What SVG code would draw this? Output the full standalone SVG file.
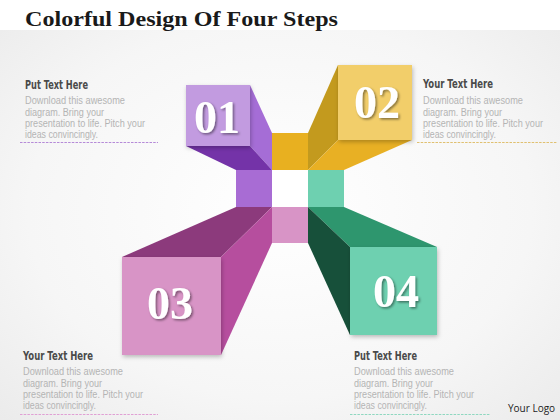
<svg xmlns="http://www.w3.org/2000/svg" width="560" height="420" viewBox="0 0 560 420">
<defs>
<radialGradient id="bg" cx="50%" cy="50%" r="75%">
<stop offset="0" stop-color="#ffffff"/>
<stop offset="0.6" stop-color="#f6f6f6"/>
<stop offset="1" stop-color="#e9e9e9"/>
</radialGradient>
<filter id="sh" x="-20%" y="-20%" width="140%" height="140%">
<feDropShadow dx="1" dy="2" stdDeviation="2" flood-color="#000" flood-opacity="0.25"/>
</filter>
<filter id="tsh" x="-20%" y="-20%" width="140%" height="140%">
<feDropShadow dx="1.5" dy="1.5" stdDeviation="0.8" flood-color="#000" flood-opacity="0.45"/>
</filter>
<style>
.num{font-family:"Liberation Serif","DejaVu Serif",serif;font-weight:bold;font-size:46px;fill:#fff;text-anchor:middle;filter:url(#tsh)}
.hd{font-family:"DejaVu Sans Condensed","Liberation Sans",sans-serif;font-weight:bold;font-size:13px;fill:#4a4a4a}
.bd{font-family:"Liberation Sans",Arial,sans-serif;font-size:10px;fill:#b4b4b4}
.dl{stroke-width:1.2;stroke-dasharray:2.5 1.2;fill:none}
</style>
</defs>
<rect width="560" height="420" fill="url(#bg)"/>
<rect width="560" height="30" fill="#ffffff"/>
<text x="25" y="26" font-family="'Liberation Serif','DejaVu Serif',serif" font-weight="bold" font-size="22" fill="#1a1a1a" textLength="313" lengthAdjust="spacingAndGlyphs">Colorful Design Of Four Steps</text>

<g id="center">
<rect x="272" y="170" width="36" height="37" fill="#ffffff"/>
<rect x="236" y="170" width="36" height="37" fill="#a86cd4"/>
<rect x="308" y="170" width="36" height="37" fill="#6ed0b0"/>
<rect x="272" y="133" width="36" height="37" fill="#e8b020"/>
<rect x="272" y="207" width="36" height="36" fill="#d894c6"/>
</g>

<g id="step1">
<polygon points="250,85 272,133 272,170 250,146" fill="#a56dd6"/>
<polygon points="186,146 250,146 272,170 236,170" fill="#7433a8"/>
<rect x="186" y="85" width="64" height="61" fill="#c29be0" filter="url(#sh)"/>
<text class="num" x="217" y="133">01</text>
</g>

<g id="step2">
<polygon points="338,65 338,140 308,170 308,133" fill="#c39a1e"/>
<polygon points="338,140 412,140 344,170 308,170" fill="#e8b024"/>
<rect x="338" y="65" width="74" height="75" fill="#f2ce6a" filter="url(#sh)"/>
<text class="num" x="377" y="118">02</text>
</g>

<g id="step3">
<polygon points="122,257 221,257 272,207 236,207" fill="#8c3a7c"/>
<polygon points="221,257 221,355 272,243 272,207" fill="#b64e9e"/>
<rect x="122" y="257" width="99" height="98" fill="#d894c6" filter="url(#sh)"/>
<text class="num" x="170" y="319">03</text>
</g>

<g id="step4">
<polygon points="350,247 437,247 344,207 308,207" fill="#2e966e"/>
<polygon points="308,207 350,247 350,335 308,243" fill="#17503a"/>
<rect x="350" y="247" width="87" height="88" fill="#6ed0b0" filter="url(#sh)"/>
<text class="num" x="396" y="307">04</text>
</g>

<g id="text1">
<text class="hd" x="25" y="89" textLength="63" lengthAdjust="spacingAndGlyphs">Put Text Here</text>
<text class="bd" x="25" y="104" textLength="100" lengthAdjust="spacingAndGlyphs">Download this awesome</text>
<text class="bd" x="25" y="115.5" textLength="79" lengthAdjust="spacingAndGlyphs">diagram. Bring your</text>
<text class="bd" x="25" y="127" textLength="120" lengthAdjust="spacingAndGlyphs">presentation to life. Pitch your</text>
<text class="bd" x="25" y="138" textLength="73" lengthAdjust="spacingAndGlyphs">ideas convincingly.</text>
<line class="dl" x1="20" y1="142.5" x2="158" y2="142.5" stroke="#b58ad8"/>
</g>

<g id="text2">
<text class="hd" x="423" y="88" textLength="70" lengthAdjust="spacingAndGlyphs">Your Text Here</text>
<text class="bd" x="423" y="104" textLength="100" lengthAdjust="spacingAndGlyphs">Download this awesome</text>
<text class="bd" x="423" y="115.5" textLength="79" lengthAdjust="spacingAndGlyphs">diagram. Bring your</text>
<text class="bd" x="423" y="127" textLength="120" lengthAdjust="spacingAndGlyphs">presentation to life. Pitch your</text>
<text class="bd" x="423" y="138" textLength="73" lengthAdjust="spacingAndGlyphs">ideas convincingly.</text>
<line class="dl" x1="417" y1="142.5" x2="557" y2="142.5" stroke="#e0c070"/>
</g>

<g id="text3">
<text class="hd" x="23" y="360" textLength="70" lengthAdjust="spacingAndGlyphs">Your Text Here</text>
<text class="bd" x="23" y="375" textLength="100" lengthAdjust="spacingAndGlyphs">Download this awesome</text>
<text class="bd" x="23" y="386.5" textLength="79" lengthAdjust="spacingAndGlyphs">diagram. Bring your</text>
<text class="bd" x="23" y="398" textLength="120" lengthAdjust="spacingAndGlyphs">presentation to life. Pitch your</text>
<text class="bd" x="23" y="409" textLength="73" lengthAdjust="spacingAndGlyphs">ideas convincingly.</text>
<line class="dl" x1="20" y1="414.5" x2="158" y2="414.5" stroke="#e0a0d4"/>
</g>

<g id="text4">
<text class="hd" x="354" y="360" textLength="63" lengthAdjust="spacingAndGlyphs">Put Text Here</text>
<text class="bd" x="354" y="375" textLength="100" lengthAdjust="spacingAndGlyphs">Download this awesome</text>
<text class="bd" x="354" y="386.5" textLength="79" lengthAdjust="spacingAndGlyphs">diagram. Bring your</text>
<text class="bd" x="354" y="398" textLength="120" lengthAdjust="spacingAndGlyphs">presentation to life. Pitch your</text>
<text class="bd" x="354" y="409" textLength="73" lengthAdjust="spacingAndGlyphs">ideas convincingly.</text>
<line class="dl" x1="350" y1="414.5" x2="490" y2="414.5" stroke="#8fd8c0"/>
</g>

<text x="508" y="412" font-family="'Open Sans','Liberation Sans',sans-serif" font-size="10" fill="#222">Your Logo</text>
</svg>
